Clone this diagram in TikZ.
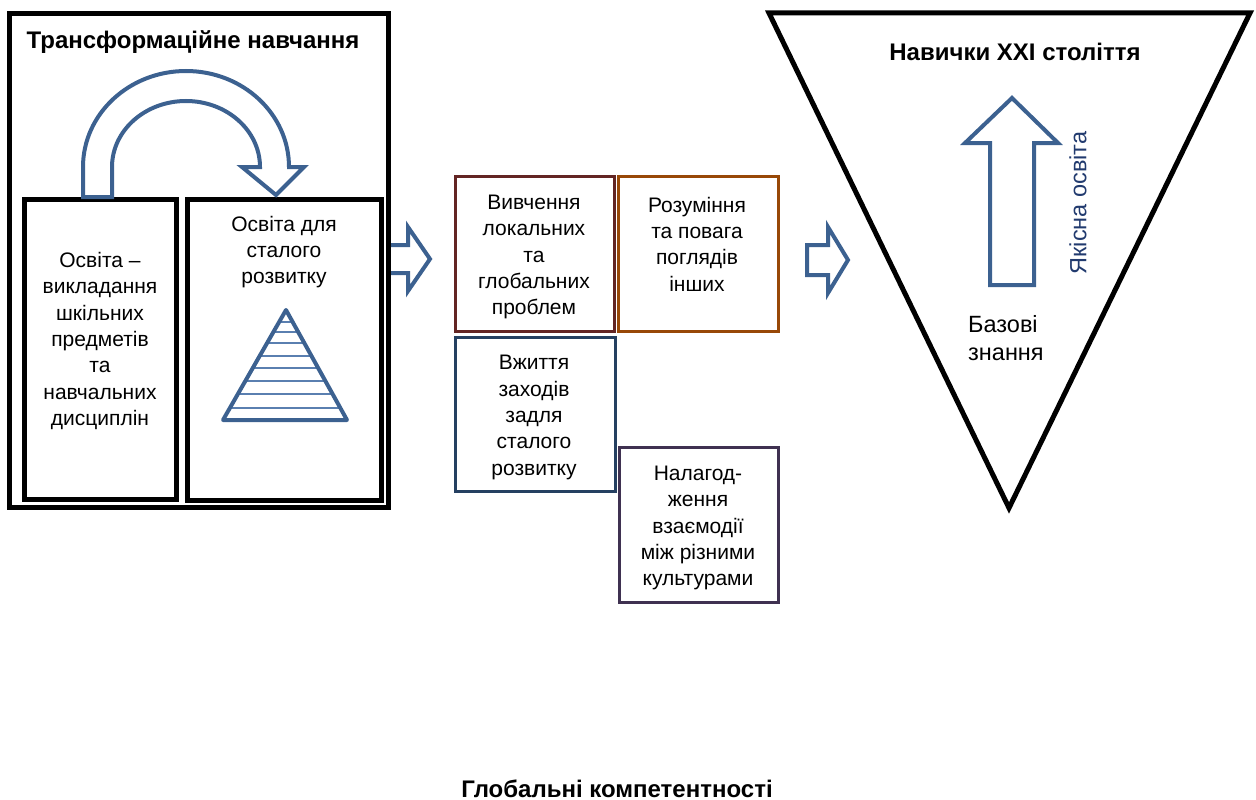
\documentclass[tikz,border=0pt]{standalone}
\usepackage{fontspec}
\setmainfont{Liberation Sans}
\definecolor{arrowblue}{HTML}{3C6190}
\definecolor{lineblue}{HTML}{5A7FB0}
\definecolor{boxred}{HTML}{632523}
\definecolor{boxorange}{HTML}{984807}
\definecolor{boxnavy}{HTML}{254061}
\definecolor{boxpurple}{HTML}{3F3151}
\definecolor{textnavy}{HTML}{213A6E}
\tikzset{
  blackbox/.style={draw=black, line width=5pt, inner sep=0pt, fill=none},
  colbox/.style={draw=#1, line width=3pt, inner sep=0pt},
  blockarrow/.style={draw=arrowblue, line width=4pt, fill=white, line join=miter},
  txt/.style={font=\fontsize{21}{26.4}\selectfont, align=center, inner sep=0pt},
  bigtxt/.style={font=\fontsize{23.5}{28}\selectfont, inner sep=0pt},
  bold/.style={font=\fontsize{24}{28}\selectfont\bfseries, inner sep=0pt, anchor=base},
}
\begin{document}
\begin{tikzpicture}[x=1pt,y=-1pt]
\useasboundingbox (0,0) rectangle (1256,800);

% arrow from left panel to middle
\draw[blockarrow] (388,245) -- (408,245) -- (408,227) -- (430,259) -- (408,291) -- (408,273) -- (388,273) -- cycle;

% outer box and inner boxes
\node[blackbox, minimum width=378.5pt, minimum height=493pt] (outer) at (198.75,260.5) {};
\node[blackbox, minimum width=152.5pt, minimum height=300.5pt] (inl) at (100.25,349.25) {};
\node[blackbox, minimum width=194pt, minimum height=301pt] (inr) at (284.5,349.5) {};

\node[bold] (t1) at (193,49) {Трансформаційне навчання};

% curved arrow
\draw[blockarrow] (83,197) -- (83,167) arc[start angle=180, end angle=360, x radius=103, y radius=96]
  -- (304,167) -- (276,195) -- (242,167) -- (260,167)
  arc[start angle=360, end angle=180, x radius=74, y radius=66] -- (112,197) -- cycle;

\node[txt] (lt) at (100,341) {Освіта –\\викладання\\шкільних\\предметів\\та\\навчальних\\дисциплін};
\node[txt] (rt) at (284,252) {Освіта для\\сталого\\розвитку};

% pyramid
\begin{scope}
  \clip (286,310) -- (347,420) -- (223,420) -- cycle;
  \foreach \yy in {322,332,343,356,368,381,394,408}
    \draw[lineblue, line width=2pt] (200,\yy) -- (370,\yy);
\end{scope}
\draw[arrowblue, line width=4pt, line join=round] (286,310) -- (347,420) -- (223,420) -- cycle;

% middle boxes
\node[colbox=boxred, minimum width=158.5pt, minimum height=154.5pt] (b1) at (534.75,253.75) {};
\node[colbox=boxorange, minimum width=160pt, minimum height=154.5pt] (b2) at (698.5,253.75) {};
\node[colbox=boxnavy, minimum width=159.5pt, minimum height=153.5pt] (b3) at (535.25,414.25) {};
\node[colbox=boxpurple, minimum width=159.5pt, minimum height=155pt] (b4) at (698.75,525) {};

\node[txt] (b1t) at (534,257) {Вивчення\\локальних\\та\\глобальних\\проблем};
\node[txt] (b2t) at (697,244) {Розуміння\\та повага\\поглядів\\інших};
\node[txt] (b3t) at (534,417.5) {Вжиття\\заходів\\задля\\сталого\\розвитку};
\node[txt] (b4t) at (698,528) {Налагод-\\ження\\взаємодії\\між різними\\культурами};

% arrow to triangle
\draw[blockarrow] (807,245) -- (828,245) -- (828,227) -- (848,260) -- (828,293) -- (828,275) -- (807,275) -- cycle;

% inverted triangle
\draw[black, line width=5pt] (769,13) -- (1250,13) -- (1009,508) -- cycle;
\node[bold] (t2) at (1015,60) {Навички XXI століття};

% up arrow
\draw[blockarrow] (990,285) -- (990,143) -- (965,143) -- (1012,98) -- (1058,143) -- (1034,143) -- (1034,285) -- cycle;
\node[bigtxt, text=textnavy, rotate=90] (q) at (1078,203) {Якісна освіта};
\node[bigtxt, align=left, anchor=west] (base) at (968,338) {Базові\\знання};

\node[bold] (bottom) at (617,797) {Глобальні компетентності};
\end{tikzpicture}
\end{document}
